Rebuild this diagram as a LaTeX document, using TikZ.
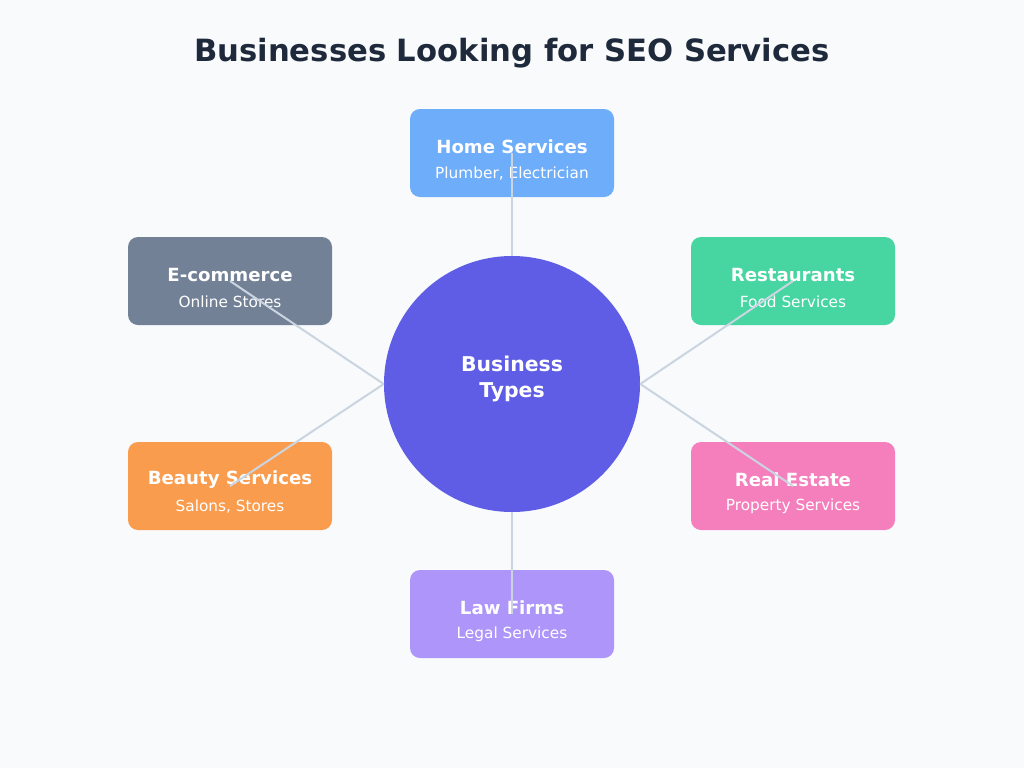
\documentclass[tikz,border=0pt]{standalone}
\usepackage{fontspec}
\setmainfont{DejaVu Sans}
\definecolor{bg}{HTML}{F8FAFC}
\definecolor{titlec}{HTML}{1E293B}
\definecolor{linec}{HTML}{CBD5E1}
\definecolor{cindigo}{HTML}{5F5CE6}
\definecolor{cblue}{HTML}{60A5FA}
\definecolor{cslate}{HTML}{64748B}
\definecolor{cgreen}{HTML}{34D399}
\definecolor{corange}{HTML}{FB923C}
\definecolor{cpink}{HTML}{F472B6}
\definecolor{cviolet}{HTML}{A78BFA}
\tikzset{
  px/.style={x=0.75pt,y=-0.75pt},
  card/.style={rounded corners=7.5pt, minimum width=153pt, minimum height=66pt, inner sep=0pt, fill opacity=0.9, draw=none},
  ctitle/.style={text=white, font=\bfseries\fontsize{13.6pt}{16pt}\selectfont, inner sep=0pt},
  csub/.style={text=white, font=\fontsize{11.5pt}{13pt}\selectfont, inner sep=0pt},
  conn/.style={draw=linec, line width=1.5pt},
}
\begin{document}
\begin{tikzpicture}[px]
\fill[bg] (0,0) rectangle (1024,768);
\useasboundingbox (0,0) rectangle (1024,768);
\node[text=titlec, font=\bfseries\fontsize{23pt}{27pt}\selectfont] (title) at (512,53) {Businesses Looking for SEO Services};

\node[card, fill=cblue] (home) at (512,153) {};
\node[card, fill=cslate] (ecom) at (230,281) {};
\node[card, fill=cgreen] (rest) at (793,281) {};
\node[card, fill=corange] (beauty) at (230,486) {};
\node[card, fill=cpink] (real) at (793,486) {};
\node[card, fill=cviolet] (law) at (512,614) {};

\foreach \n/\t/\s in {home/Home Services/{Plumber, Electrician}, ecom/E-commerce/Online Stores, rest/Restaurants/Food Services, beauty/Beauty Services/{Salons, Stores}, real/Real Estate/Property Services, law/Law Firms/Legal Services}{
  \node[ctitle] (\n-t) at ([yshift=4.5pt]\n.center) {\t};
  \node[csub] (\n-s) at ([yshift=-15.5pt]\n.center) {\s};
}

\node[circle, minimum size=192pt, inner sep=0pt, fill=cindigo, draw=none] (hub) at (512,384) {};

\draw[conn] (hub.north) -- (home.center);
\draw[conn] (hub.west) -- (ecom.center);
\draw[conn] (hub.east) -- (rest.center);
\draw[conn] (hub.west) -- (beauty.center);
\draw[conn] (hub.east) -- (real.center);
\draw[conn] (hub.south) -- (law.center);

\node[text=white, align=center, font=\bfseries\fontsize{15.3pt}{19.5pt}\selectfont] (hubt) at (512,379) {Business\\Types};
\end{tikzpicture}
\end{document}
